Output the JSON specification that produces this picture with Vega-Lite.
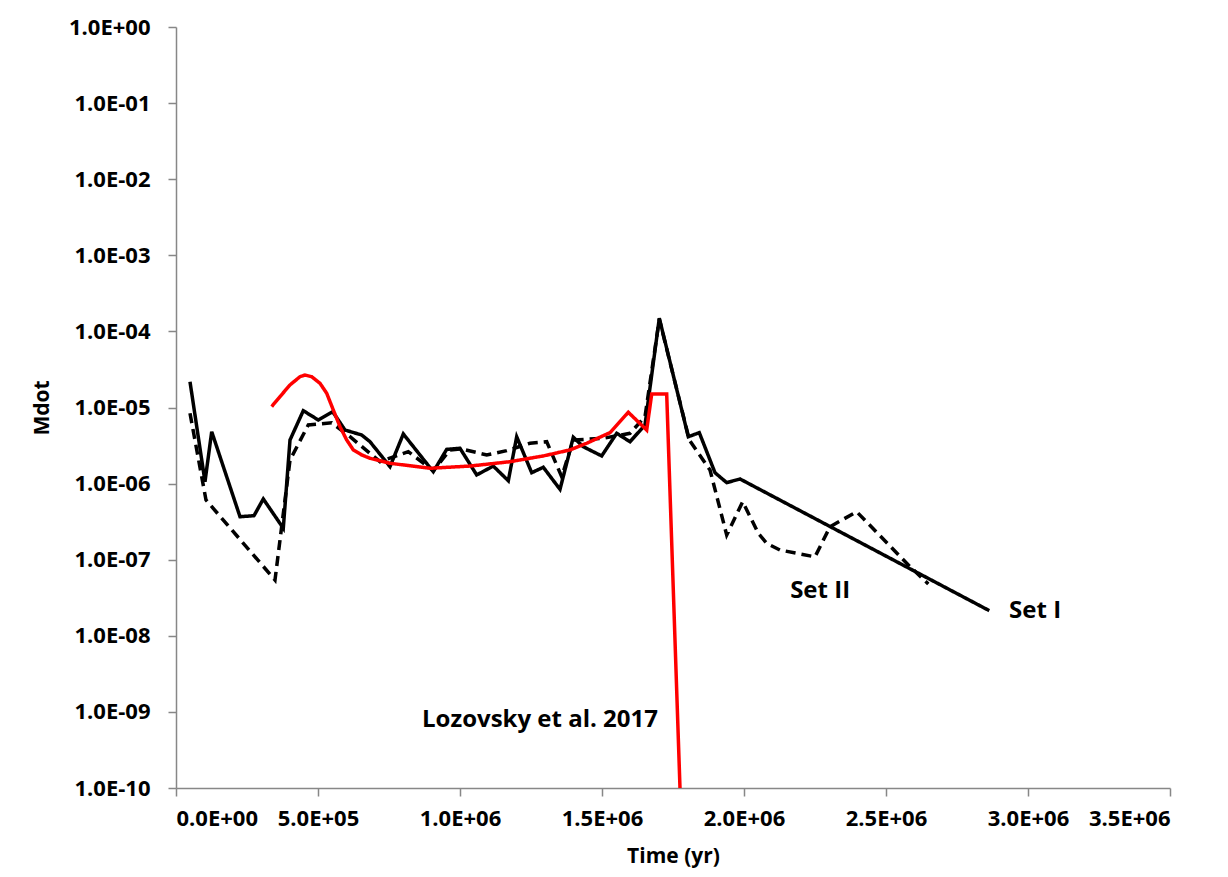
{
  "$schema": "https://vega.github.io/schema/vega-lite/v6.json",
  "width": 994,
  "height": 761,
  "autosize": {"type": "none"},
  "padding": {"left": 176, "top": 27, "right": 58, "bottom": 89},
  "background": "white",
  "config": {
    "view": {"stroke": null},
    "font": "Open Sans",
    "axis": {
      "grid": false,
      "domainColor": "#878787",
      "domainWidth": 1.5,
      "tickColor": "#878787",
      "tickWidth": 1.5,
      "tickSize": 8,
      "labelFont": "Open Sans",
      "labelFontWeight": "bold",
      "labelFontSize": 22,
      "labelColor": "#000000",
      "titleFont": "Open Sans",
      "titleFontWeight": "bold",
      "titleFontSize": 21,
      "titleColor": "#000000"
    }
  },
  "datasets": {
    "series": [
      {"series": "Set I", "t": 49300, "mdot": 2.18e-5},
      {"series": "Set I", "t": 102100, "mdot": 1.06e-6},
      {"series": "Set I", "t": 125700, "mdot": 4.81e-6},
      {"series": "Set I", "t": 225400, "mdot": 3.67e-7},
      {"series": "Set I", "t": 274600, "mdot": 3.79e-7},
      {"series": "Set I", "t": 307400, "mdot": 6.28e-7},
      {"series": "Set I", "t": 377800, "mdot": 2.59e-7},
      {"series": "Set I", "t": 401400, "mdot": 3.74e-6},
      {"series": "Set I", "t": 448200, "mdot": 9.08e-6},
      {"series": "Set I", "t": 501100, "mdot": 6.85e-6},
      {"series": "Set I", "t": 551800, "mdot": 8.8e-6},
      {"series": "Set I", "t": 595100, "mdot": 5.06e-6},
      {"series": "Set I", "t": 653900, "mdot": 4.35e-6},
      {"series": "Set I", "t": 683100, "mdot": 3.55e-6},
      {"series": "Set I", "t": 753500, "mdot": 1.67e-6},
      {"series": "Set I", "t": 800400, "mdot": 4.49e-6},
      {"series": "Set I", "t": 906000, "mdot": 1.43e-6},
      {"series": "Set I", "t": 953200, "mdot": 2.82e-6},
      {"series": "Set I", "t": 1000000, "mdot": 2.91e-6},
      {"series": "Set I", "t": 1058800, "mdot": 1.3e-6},
      {"series": "Set I", "t": 1117300, "mdot": 1.7e-6},
      {"series": "Set I", "t": 1170100, "mdot": 1.09e-6},
      {"series": "Set I", "t": 1199600, "mdot": 4.13e-6},
      {"series": "Set I", "t": 1252500, "mdot": 1.39e-6},
      {"series": "Set I", "t": 1293300, "mdot": 1.64e-6},
      {"series": "Set I", "t": 1352100, "mdot": 8.4e-7},
      {"series": "Set I", "t": 1398900, "mdot": 4.06e-6},
      {"series": "Set I", "t": 1434200, "mdot": 3.05e-6},
      {"series": "Set I", "t": 1498900, "mdot": 2.31e-6},
      {"series": "Set I", "t": 1551800, "mdot": 4.58e-6},
      {"series": "Set I", "t": 1598600, "mdot": 3.55e-6},
      {"series": "Set I", "t": 1651400, "mdot": 5.89e-6},
      {"series": "Set I", "t": 1701800, "mdot": 1.49e-4},
      {"series": "Set I", "t": 1803900, "mdot": 4.13e-6},
      {"series": "Set I", "t": 1842600, "mdot": 4.67e-6},
      {"series": "Set I", "t": 1897900, "mdot": 1.39e-6},
      {"series": "Set I", "t": 1939100, "mdot": 1.03e-6},
      {"series": "Set I", "t": 1985900, "mdot": 1.15e-6},
      {"series": "Set I", "t": 2863700, "mdot": 2.14e-8},

      {"series": "Set II", "t": 49300, "mdot": 8.39e-6},
      {"series": "Set II", "t": 105600, "mdot": 6.09e-7},
      {"series": "Set II", "t": 348600, "mdot": 5.41e-8},
      {"series": "Set II", "t": 401400, "mdot": 2.04e-6},
      {"series": "Set II", "t": 465800, "mdot": 5.89e-6},
      {"series": "Set II", "t": 548200, "mdot": 6.31e-6},
      {"series": "Set II", "t": 612700, "mdot": 4.13e-6},
      {"series": "Set II", "t": 718300, "mdot": 1.94e-6},
      {"series": "Set II", "t": 818000, "mdot": 2.63e-6},
      {"series": "Set II", "t": 906000, "mdot": 1.48e-6},
      {"series": "Set II", "t": 964800, "mdot": 2.77e-6},
      {"series": "Set II", "t": 1006000, "mdot": 2.85e-6},
      {"series": "Set II", "t": 1094000, "mdot": 2.38e-6},
      {"series": "Set II", "t": 1164400, "mdot": 2.71e-6},
      {"series": "Set II", "t": 1246500, "mdot": 3.39e-6},
      {"series": "Set II", "t": 1305300, "mdot": 3.55e-6},
      {"series": "Set II", "t": 1358100, "mdot": 1.23e-6},
      {"series": "Set II", "t": 1398900, "mdot": 3.74e-6},
      {"series": "Set II", "t": 1504600, "mdot": 3.94e-6},
      {"series": "Set II", "t": 1598600, "mdot": 4.58e-6},
      {"series": "Set II", "t": 1651400, "mdot": 7.57e-6},
      {"series": "Set II", "t": 1701800, "mdot": 1.45e-4},
      {"series": "Set II", "t": 1807400, "mdot": 3.74e-6},
      {"series": "Set II", "t": 1880300, "mdot": 1.51e-6},
      {"series": "Set II", "t": 1939100, "mdot": 2.11e-7},
      {"series": "Set II", "t": 1995400, "mdot": 5.78e-7},
      {"series": "Set II", "t": 2050400, "mdot": 2.22e-7},
      {"series": "Set II", "t": 2079900, "mdot": 1.64e-7},
      {"series": "Set II", "t": 2126800, "mdot": 1.34e-7},
      {"series": "Set II", "t": 2250000, "mdot": 1.09e-7},
      {"series": "Set II", "t": 2302800, "mdot": 2.71e-7},
      {"series": "Set II", "t": 2396800, "mdot": 4.27e-7},
      {"series": "Set II", "t": 2584500, "mdot": 8.1e-8},
      {"series": "Set II", "t": 2648900, "mdot": 4.8e-8},

      {"series": "Lozovsky", "t": 337000, "mdot": 1.03e-5},
      {"series": "Lozovsky", "t": 366200, "mdot": 1.39e-5},
      {"series": "Lozovsky", "t": 401400, "mdot": 1.98e-5},
      {"series": "Lozovsky", "t": 436600, "mdot": 2.54e-5},
      {"series": "Lozovsky", "t": 454200, "mdot": 2.67e-5},
      {"series": "Lozovsky", "t": 477800, "mdot": 2.54e-5},
      {"series": "Lozovsky", "t": 507000, "mdot": 2.08e-5},
      {"series": "Lozovsky", "t": 530600, "mdot": 1.54e-5},
      {"series": "Lozovsky", "t": 553900, "mdot": 9.27e-6},
      {"series": "Lozovsky", "t": 577500, "mdot": 5.6e-6},
      {"series": "Lozovsky", "t": 601100, "mdot": 3.74e-6},
      {"series": "Lozovsky", "t": 624300, "mdot": 2.77e-6},
      {"series": "Lozovsky", "t": 653900, "mdot": 2.38e-6},
      {"series": "Lozovsky", "t": 683100, "mdot": 2.15e-6},
      {"series": "Lozovsky", "t": 718300, "mdot": 2.0e-6},
      {"series": "Lozovsky", "t": 753500, "mdot": 1.85e-6},
      {"series": "Lozovsky", "t": 894400, "mdot": 1.59e-6},
      {"series": "Lozovsky", "t": 1035200, "mdot": 1.7e-6},
      {"series": "Lozovsky", "t": 1176100, "mdot": 1.94e-6},
      {"series": "Lozovsky", "t": 1293300, "mdot": 2.31e-6},
      {"series": "Lozovsky", "t": 1387300, "mdot": 2.77e-6},
      {"series": "Lozovsky", "t": 1446100, "mdot": 3.39e-6},
      {"series": "Lozovsky", "t": 1528200, "mdot": 4.67e-6},
      {"series": "Lozovsky", "t": 1592600, "mdot": 8.65e-6},
      {"series": "Lozovsky", "t": 1657400, "mdot": 5.06e-6},
      {"series": "Lozovsky", "t": 1675000, "mdot": 1.5e-5},
      {"series": "Lozovsky", "t": 1727800, "mdot": 1.5e-5},
      {"series": "Lozovsky", "t": 1774600, "mdot": 1e-10}
    ],
    "labels": [
      {"label": "Lozovsky et al. 2017", "t": 1281700, "mdot": 7.83e-10},
      {"label": "Set II", "t": 2268000, "mdot": 3.88e-8},
      {"label": "Set I", "t": 3025000, "mdot": 2.14e-8}
    ]
  },
  "layer": [
    {
      "data": {"name": "series"},
      "mark": {"type": "line", "strokeWidth": 3.5, "clip": true},
      "encoding": {
        "x": {
          "field": "t", "type": "quantitative", "title": "Time (yr)",
          "scale": {"domain": [0, 3500000], "nice": false, "zero": false},
          "axis": {
            "values": [0, 500000, 1000000, 1500000, 2000000, 2500000, 3000000, 3500000],
            "labelPadding": 12,
            "titlePadding": 16,
            "labelExpr": "datum.value == 0 ? '0.0E+00' : format(datum.value / pow(10, floor(log(datum.value)/LN10 + 1e-9)), '.1f') + 'E+' + (floor(log(datum.value)/LN10 + 1e-9) < 10 ? '0' : '') + floor(log(datum.value)/LN10 + 1e-9)"
          }
        },
        "y": {
          "field": "mdot", "type": "quantitative", "title": "Mdot",
          "scale": {"type": "log", "domain": [1e-10, 1], "nice": false},
          "axis": {
            "values": [1, 0.1, 0.01, 0.001, 0.0001, 0.00001, 0.000001, 1e-7, 1e-8, 1e-9, 1e-10],
            "labelPadding": 18,
            "titlePadding": 16,
            "labelExpr": "'1.0E' + (round(log(datum.value)/LN10) >= 0 ? '+' : '-') + (abs(round(log(datum.value)/LN10)) < 10 ? '0' : '') + abs(round(log(datum.value)/LN10))"
          }
        },
        "color": {
          "field": "series", "type": "nominal", "legend": null,
          "scale": {"domain": ["Set I", "Set II", "Lozovsky"], "range": ["#000000", "#000000", "#ff0000"]}
        },
        "strokeDash": {
          "field": "series", "type": "nominal", "legend": null,
          "scale": {"domain": ["Set I", "Set II", "Lozovsky"], "range": [[1, 0], [10, 6], [1, 0]]}
        }
      }
    },
    {
      "data": {"name": "labels"},
      "mark": {"type": "text", "font": "Open Sans", "fontWeight": "bold", "fontSize": 24, "color": "#000000", "align": "center", "baseline": "middle"},
      "encoding": {
        "x": {"field": "t", "type": "quantitative"},
        "y": {"field": "mdot", "type": "quantitative"},
        "text": {"field": "label", "type": "nominal"}
      }
    }
  ]
}
